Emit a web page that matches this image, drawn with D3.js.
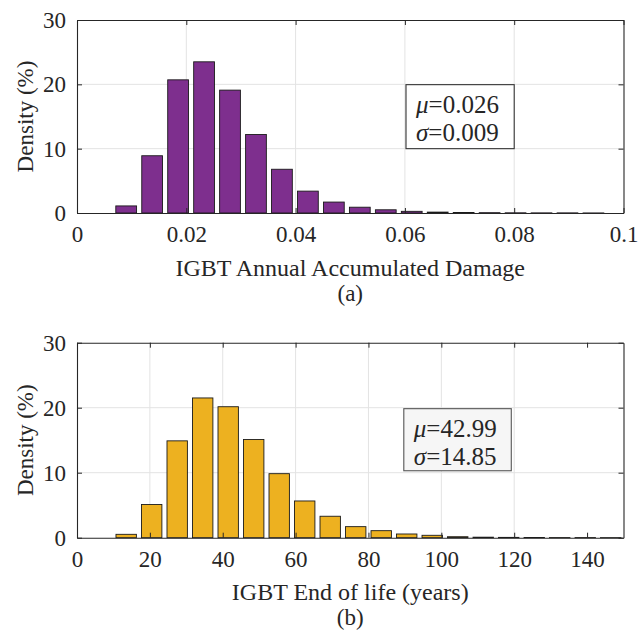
<!DOCTYPE html>
<html>
<head>
<meta charset="utf-8">
<script src="https://cdn.jsdelivr.net/npm/d3@7"></script>
<style>
  body { margin: 0; background: #fff; }
  svg text { font-family: "Liberation Serif", "Times New Roman", serif; fill: #262626; }
</style>
</head>
<body>
<div id="canvas"></div>
<script>
// data
const damageCenters = [0.0090, 0.01375, 0.0185, 0.02325, 0.0280, 0.03275, 0.0375, 0.04225, 0.0470, 0.05175,
    0.0565, 0.06125, 0.0660, 0.07075, 0.0755, 0.08025, 0.0850, 0.08975, 0.0945];
const damageDensity = [1.1, 8.9, 20.7, 23.5, 19.1, 12.2, 6.8, 3.4, 1.7, 0.9,
    0.5, 0.26, 0.14, 0.07, 0.05, 0.03, 0.02, 0.02, 0.01];
const damageBin = 0.00475;
const damageTicks = [0, 0.02, 0.04, 0.06, 0.08, 0.1];

const lifeCenters = [13.5, 20.5, 27.5, 34.5, 41.5, 48.5, 55.5, 62.5, 69.5, 76.5,
    83.5, 90.5, 97.5, 104.5, 111.5, 118.5, 125.5, 132.5, 139.5, 146.5];
const lifeDensity = [0.52, 5.1, 14.9, 21.5, 20.15, 15.1, 9.85, 5.65, 3.3, 1.7,
    1.08, 0.57, 0.37, 0.15, 0.08, 0.05, 0.03, 0.02, 0.02, 0.01];
const lifeBin = 7;
const lifeTicks = [0, 20, 40, 60, 80, 100, 120, 140];

const yTicks = [0, 10, 20, 30];

const width = 639, height = 630;
const serif = '"Liberation Serif", "Times New Roman", serif';
const svg = d3.select('#canvas').append('svg')
    .attr('width', width)
    .attr('height', height)
    .attr('font-family', serif);

function drawPanel(opt) {
    const x = d3.scaleLinear().domain(opt.xDomain).range([77, 623.5]);
    const y = d3.scaleLinear().domain([0, 30]).range([opt.bottom, opt.top]);
    const g = svg.append('g');

    // grid
    g.selectAll('.vgrid').data(opt.xTicks.slice(1, -1)).enter().append('line')
        .attr('x1', d => x(d)).attr('x2', d => x(d))
        .attr('y1', y(0)).attr('y2', y(30))
        .attr('stroke', '#e3e3e3').attr('stroke-width', 1);
    g.selectAll('.hgrid').data(yTicks.slice(1, -1)).enter().append('line')
        .attr('x1', x.range()[0]).attr('x2', x.range()[1])
        .attr('y1', d => y(d)).attr('y2', d => y(d))
        .attr('stroke', '#e3e3e3').attr('stroke-width', 1);

    // bars
    const bw = x(opt.bin * 0.8) - x(0);
    g.selectAll('rect.bar').data(opt.values).enter().append('rect')
        .attr('class', 'bar')
        .attr('x', (d, i) => x(opt.centers[i]) - bw / 2)
        .attr('width', bw)
        .attr('y', d => y(d))
        .attr('height', d => y(0) - y(d))
        .attr('fill', opt.color)
        .attr('stroke', '#1a1a1a')
        .attr('stroke-width', 0.9);

    // axes: bottom/left with labels, top/right ticks only, all inward
    const tl = 5;
    g.append('g').attr('transform', `translate(0,${y(0)})`)
        .call(d3.axisBottom(x).tickValues(opt.xTicks).tickSizeInner(-tl).tickSizeOuter(0)
            .tickPadding(13).tickFormat(d3.format('')));
    g.append('g').attr('transform', `translate(0,${y(30)})`)
        .call(d3.axisTop(x).tickValues(opt.xTicks).tickSizeInner(-tl).tickSizeOuter(0).tickFormat(''));
    g.append('g').attr('transform', `translate(${x.range()[0]},0)`)
        .call(d3.axisLeft(y).tickValues(yTicks).tickSizeInner(-tl).tickSizeOuter(0).tickPadding(11));
    g.append('g').attr('transform', `translate(${x.range()[1]},0)`)
        .call(d3.axisRight(y).tickValues(yTicks).tickSizeInner(-tl).tickSizeOuter(0).tickFormat(''));
    g.selectAll('g').attr('font-family', serif);
    g.selectAll('.domain').attr('stroke', '#262626').attr('stroke-width', 1.1);
    g.selectAll('.tick line').attr('stroke', '#262626');
    g.selectAll('.tick text').style('font-size', '23px').style('font-family', serif).attr('fill', '#262626');

    // labels
    const cx = (x.range()[0] + x.range()[1]) / 2;
    g.append('text').attr('x', cx).attr('y', opt.xLabelY)
        .attr('text-anchor', 'middle').style('font-size', '24px').text(opt.xLabel);
    g.append('text').attr('x', cx).attr('y', opt.xLabelY + 25)
        .attr('text-anchor', 'middle').style('font-size', '23px').text(opt.sub);
    g.append('text')
        .attr('transform', `translate(33,${(y(0) + y(30)) / 2}) rotate(-90)`)
        .attr('text-anchor', 'middle').style('font-size', '23px').text('Density (%)');

    // stats box
    const b = opt.box;
    g.append('rect')
        .attr('x', x(b.x0)).attr('y', y(b.y1))
        .attr('width', x(b.x1) - x(b.x0)).attr('height', y(b.y0) - y(b.y1))
        .attr('fill', b.fill).attr('stroke', b.stroke).attr('stroke-width', 1.1);
    const t = g.append('text').style('font-size', '25px');
    const l1 = t.append('tspan').attr('x', x(b.x0) + 10).attr('y', y(b.y1) + 28);
    l1.append('tspan').style('font-style', 'italic').text('μ');
    l1.append('tspan').text('=' + b.mu);
    const l2 = t.append('tspan').attr('x', x(b.x0) + 10).attr('y', y(b.y1) + 56.5);
    l2.append('tspan').style('font-style', 'italic').text('σ');
    l2.append('tspan').text('=' + b.sigma);
}

drawPanel({
    xDomain: [0, 0.1], top: 20, bottom: 213,
    centers: damageCenters, values: damageDensity, bin: damageBin,
    xTicks: damageTicks, color: '#7E2F8E',
    xLabel: 'IGBT Annual Accumulated Damage', xLabelY: 276, sub: '(a)',
    box: { x0: 0.0602, x1: 0.08, y0: 10, y1: 19.95, mu: '0.026', sigma: '0.009', fill: '#ffffff', stroke: '#333333' }
});

drawPanel({
    xDomain: [0, 150], top: 342.7, bottom: 537.7,
    centers: lifeCenters, values: lifeDensity, bin: lifeBin,
    xTicks: lifeTicks, color: '#EDB120',
    xLabel: 'IGBT End of life (years)', xLabelY: 600, sub: '(b)',
    box: { x0: 89.7, x1: 119.2, y0: 10.3, y1: 19.85, mu: '42.99', sigma: '14.85', fill: '#f6f6f6', stroke: '#555555' }
});
</script>
</body>
</html>
